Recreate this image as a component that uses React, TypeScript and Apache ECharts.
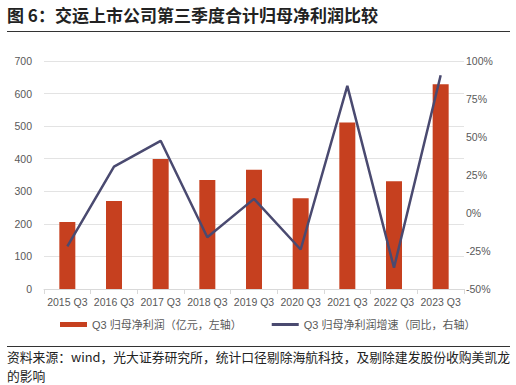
import React, { useEffect, useRef } from "react";
import * as echarts from "echarts";

const categories = ["2015 Q3", "2016 Q3", "2017 Q3", "2018 Q3", "2019 Q3", "2020 Q3", "2021 Q3", "2022 Q3", "2023 Q3"];
const profit = [206, 270, 399, 335, 366, 279, 511, 331, 629];
const growth = [-22, 30.5, 47.5, -16, 9.3, -24, 83.6, -36, 90.6];
const leftTicks = { min: 0, max: 700, interval: 100 };
const rightTicks = { min: -50, max: 100, interval: 25 };

const titleText = "图 6：交运上市公司第三季度合计归母净利润比较";
const sourceLine1 = "资料来源：wind，光大证券研究所，统计口径剔除海航科技，及剔除建发股份收购美凯龙";
const sourceLine2 = "的影响";
const barName = "Q3 归母净利润（亿元，左轴）";
const lineName = "Q3 归母净利润增速（同比，右轴）";

const FONT = "'Noto Sans CJK SC', 'Noto Sans', sans-serif";
const LABEL_FONT = "'Liberation Sans', 'Noto Sans CJK SC', sans-serif";

export default function App() {
  const ref = useRef<HTMLDivElement>(null);
  useEffect(() => {
    if (!ref.current) return;
    const chart = echarts.init(ref.current, null, { renderer: "svg" });
    chart.setOption({
      animation: false,
      textStyle: { fontFamily: FONT },
      grid: { left: 44, right: 52, top: 61, bottom: 96 },
      legend: {
        bottom: 50,
        left: 55,
        itemGap: 30,
        itemWidth: 27,
        itemHeight: 5,
        textStyle: { color: "#595959", fontSize: 11, fontFamily: LABEL_FONT },
        data: [
          { name: barName, icon: "rect" },
          { name: lineName, icon: "path://M0,0H27V3H0Z" },
        ],
      },
      xAxis: {
        type: "category",
        data: categories,
        axisLine: { lineStyle: { color: "#d9d9d9" } },
        axisTick: { show: true, lineStyle: { color: "#d9d9d9" } },
        axisLabel: { color: "#595959", fontSize: 10.5, margin: 8, interval: 0, fontFamily: LABEL_FONT },
      },
      yAxis: [
        {
          type: "value",
          ...leftTicks,
          axisLine: { show: false },
          axisTick: { show: false },
          axisLabel: { color: "#595959", fontSize: 10.5, margin: 12, fontFamily: LABEL_FONT },
          splitLine: { lineStyle: { color: "#e3e3e3" } },
        },
        {
          type: "value",
          ...rightTicks,
          axisLine: { show: false },
          axisTick: { show: false },
          axisLabel: { color: "#595959", fontSize: 10.5, margin: 2, formatter: "{value}%", fontFamily: LABEL_FONT },
          splitLine: { show: false },
        },
      ],
      series: [
        {
          name: barName,
          type: "bar",
          data: profit,
          barWidth: 16,
          itemStyle: { color: "#c6401f" },
        },
        {
          name: lineName,
          type: "line",
          yAxisIndex: 1,
          data: growth,
          symbol: "none",
          lineStyle: { color: "#4a4a70", width: 2.5 },
          itemStyle: { color: "#4a4a70" },
        },
      ],
      graphic: [
        {
          type: "text",
          left: 7,
          top: 6,
          style: { text: titleText, font: `bold 17px ${FONT}`, fill: "#222" },
        },
        {
          type: "line",
          shape: { x1: 7, y1: 31.5, x2: 510, y2: 31.5 },
          style: { stroke: "#333", lineWidth: 1.2 },
        },
        {
          type: "line",
          shape: { x1: 7, y1: 346.5, x2: 510, y2: 346.5 },
          style: { stroke: "#333", lineWidth: 1 },
        },
        {
          type: "text",
          x: 7,
          y: 356,
          style: {
            text: sourceLine1,
            font: `12.8px ${FONT}`,
            lineHeight: 14,
            verticalAlign: "middle",
            fill: "#222",
          },
        },
        {
          type: "text",
          x: 7,
          y: 375,
          style: {
            text: sourceLine2,
            font: `12.8px ${FONT}`,
            lineHeight: 14,
            verticalAlign: "middle",
            fill: "#222",
          },
        },
      ],
    });
    return () => chart.dispose();
  }, []);
  return <div ref={ref} style={{ width: 516, height: 385, position: "absolute", left: 0, top: 0 }} />;
}
